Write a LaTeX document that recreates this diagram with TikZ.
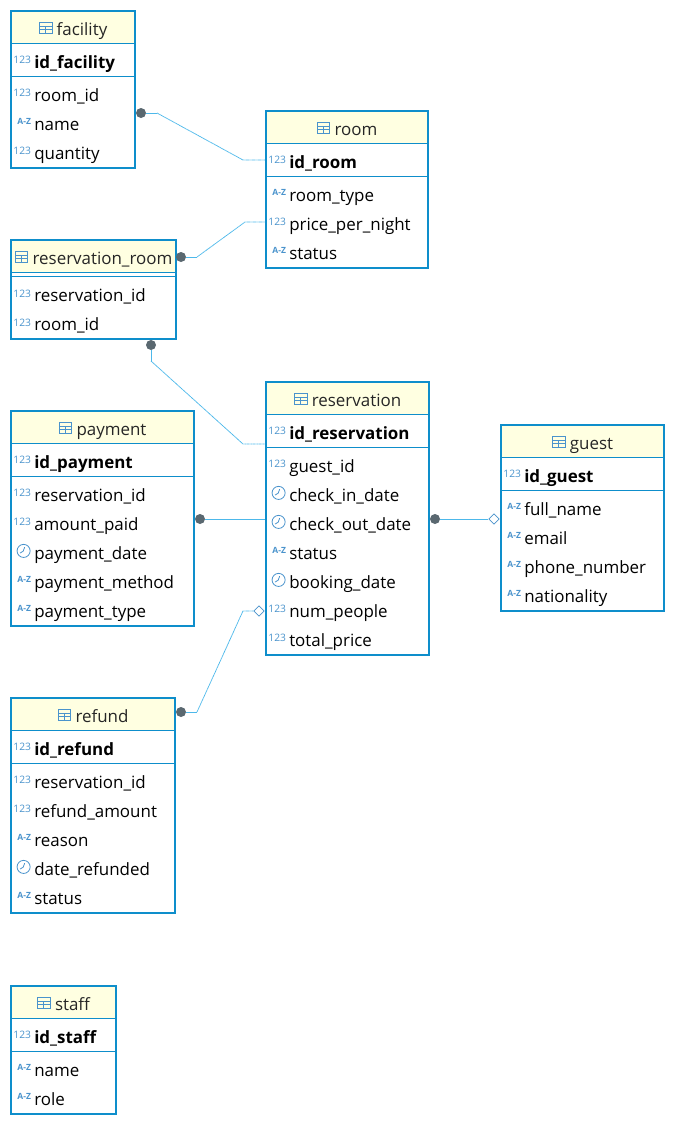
\documentclass[tikz,border=0pt]{standalone}
\usepackage{fontspec}
\setmainfont{Open Sans}
\usetikzlibrary{positioning, shapes.geometric}
\definecolor{framecol}{HTML}{0E8ECB}
\definecolor{iconcol}{HTML}{4A93CC}
\definecolor{linecol}{HTML}{4DB8EA}
\definecolor{titlecol}{HTML}{FFFFE1}
\definecolor{dotcol}{HTML}{5A6870}
\newcommand{\tableicon}{\tikz[baseline=-9.1pt,x=1pt,y=1pt]{\draw[iconcol,line width=.6pt] (0,0) rectangle (9.6,-7.6) (0,-2.6) -- (9.6,-2.6) (0,-5.1) -- (9.6,-5.1) (4.8,-2.6) -- (4.8,-7.6);}}
\newcommand{\clockicon}{\tikz[x=1pt,y=1pt]{\draw[iconcol,line width=.6pt] (0,0) circle (4.9) (.8,2.8) -- (-.3,-.2) -- (-2.6,-1.6);}}
\tikzset{
	framebox/.style={
		rectangle,
		draw=framecol,
		line width=1.5pt,
		anchor=north west,
		inner sep=0pt,
		outer sep=0pt,
	},
	titlebox/.style={
		rectangle,
		draw=framecol,
		line width=.6pt,
		fill=titlecol,
		anchor=north west,
		inner sep=0pt,
		outer sep=0pt,
		minimum height=24pt,
		text height=15pt,
		text depth=3pt,
		font=\fontsize{12.7}{16}\selectfont,
		text=black!85,
	},
	keybox/.style={
		rectangle,
		draw=framecol,
		line width=.6pt,
		inner sep=0pt,
		outer sep=0pt,
		minimum height=24.75pt,
	},
	row/.style={
		inner sep=0pt,
		text width=110pt,
		text height=16pt,
		text depth=3pt,
		align=left,
		font=\fontsize{12.7}{16}\selectfont,
	},
	icon/.style={
		text=iconcol,
		inner sep=0pt,
		label distance=2pt,
		yshift=-.3pt,
	},
	numrow/.style={row, label={[icon, font=\fontsize{7.7}{9}\selectfont]left:123}},
	textrow/.style={row, label={[icon, font=\bfseries\fontsize{6.4}{9}\selectfont]left:A-Z}},
	daterow/.style={row, label={[icon, label distance=2.4pt]left:\clockicon}},
	idrow/.style={numrow, font=\bfseries\fontsize{12.7}{16}\selectfont},
	dot/.style={
		circle,
		fill=dotcol,
		inner sep=0pt,
		minimum size=7.5pt,
	},
	optional/.style={
		diamond,
		draw=iconcol,
		fill=white,
		line width=.5pt,
		inner sep=0pt,
		minimum size=8pt,
	},
	stub/.style={draw=linecol, line width=.6pt},
	rel/.style={draw=linecol, line width=.6pt, dash pattern=on .6pt off .3pt},
}
\begin{document}
\begin{tikzpicture}[x=.75pt, y=-.75pt, node distance=21.75pt]
	\useasboundingbox (0,0) rectangle (675,1125);

	% facility
	\node [titlebox, minimum width=93pt] (tfacility) at (11,11) {\tableicon\ facility};
	\node [keybox, minimum width=93pt, below=0pt of tfacility] (kfacility) {};
	\node [idrow, right=17.25pt of kfacility.west] (id_facility) {id\_facility};
	\node [numrow, below of=id_facility, node distance=24.75pt] (facility_room) {room\_id};
	\node [textrow, below of=facility_room] (facility_name) {name};
	\node [numrow, below of=facility_name] (facility_quantity) {quantity};
	\node [framebox, minimum width=93pt, minimum height=117.75pt] (facility) at (11,11) {};

	% room
	\node [titlebox, minimum width=121.5pt] (troom) at (266,111) {\tableicon\ room};
	\node [keybox, minimum width=121.5pt, below=0pt of troom] (kroom) {};
	\node [idrow, right=17.25pt of kroom.west] (id_room) {id\_room};
	\node [textrow, below of=id_room, node distance=24.75pt] (room_type) {room\_type};
	\node [numrow, below of=room_type] (room_price) {price\_per\_night};
	\node [textrow, below of=room_price] (room_status) {status};
	\node [framebox, minimum width=121.5pt, minimum height=117.75pt] (room) at (266,111) {};

	% reservation_room
	\node [titlebox, minimum width=123.75pt] (tresroom) at (11,240) {\tableicon\ reservation\_room};
	\node [keybox, minimum width=123.75pt, minimum height=3pt, below=0pt of tresroom] (kresroom) {};
	\node [numrow, below right=12.7pt and 17.25pt of kresroom.south west, anchor=west] (resroom_res) {reservation\_id};
	\node [numrow, below of=resroom_res] (resroom_room) {room\_id};
	\node [framebox, minimum width=123.75pt, minimum height=74.25pt] (resroom) at (11,240) {};

	% reservation
	\node [titlebox, minimum width=122.25pt] (treservation) at (266,382) {\tableicon\ reservation};
	\node [keybox, minimum width=122.25pt, below=0pt of treservation] (kreservation) {};
	\node [idrow, right=17.25pt of kreservation.west] (id_reservation) {id\_reservation};
	\node [numrow, below of=id_reservation, node distance=24.75pt] (res_guest) {guest\_id};
	\node [daterow, below of=res_guest] (res_in) {check\_in\_date};
	\node [daterow, below of=res_in] (res_out) {check\_out\_date};
	\node [textrow, below of=res_out] (res_status) {status};
	\node [daterow, below of=res_status] (res_booking) {booking\_date};
	\node [numrow, below of=res_booking] (res_people) {num\_people};
	\node [numrow, below of=res_people] (res_total) {total\_price};
	\node [framebox, minimum width=122.25pt, minimum height=204.75pt] (reservation) at (266,382) {};

	% payment
	\node [titlebox, minimum width=137.25pt] (tpayment) at (11,411) {\tableicon\ payment};
	\node [keybox, minimum width=137.25pt, below=0pt of tpayment] (kpayment) {};
	\node [idrow, right=17.25pt of kpayment.west] (id_payment) {id\_payment};
	\node [numrow, below of=id_payment, node distance=24.75pt] (pay_res) {reservation\_id};
	\node [numrow, below of=pay_res] (pay_amount) {amount\_paid};
	\node [daterow, below of=pay_amount] (pay_date) {payment\_date};
	\node [textrow, below of=pay_date] (pay_method) {payment\_method};
	\node [textrow, below of=pay_method] (pay_type) {payment\_type};
	\node [framebox, minimum width=137.25pt, minimum height=161.25pt] (payment) at (11,411) {};

	% guest
	\node [titlebox, minimum width=122.25pt] (tguest) at (501,425) {\tableicon\ guest};
	\node [keybox, minimum width=122.25pt, below=0pt of tguest] (kguest) {};
	\node [idrow, right=17.25pt of kguest.west] (id_guest) {id\_guest};
	\node [textrow, below of=id_guest, node distance=24.75pt] (guest_name) {full\_name};
	\node [textrow, below of=guest_name] (guest_email) {email};
	\node [textrow, below of=guest_email] (guest_phone) {phone\_number};
	\node [textrow, below of=guest_phone] (guest_nat) {nationality};
	\node [framebox, minimum width=122.25pt, minimum height=139.5pt] (guest) at (501,425) {};

	% refund
	\node [titlebox, minimum width=123pt] (trefund) at (11,698) {\tableicon\ refund};
	\node [keybox, minimum width=123pt, below=0pt of trefund] (krefund) {};
	\node [idrow, right=17.25pt of krefund.west] (id_refund) {id\_refund};
	\node [numrow, below of=id_refund, node distance=24.75pt] (refund_res) {reservation\_id};
	\node [numrow, below of=refund_res] (refund_amount) {refund\_amount};
	\node [textrow, below of=refund_amount] (refund_reason) {reason};
	\node [daterow, below of=refund_reason] (refund_date) {date\_refunded};
	\node [textrow, below of=refund_date] (refund_status) {status};
	\node [framebox, minimum width=123pt, minimum height=161.25pt] (refund) at (11,698) {};

	% staff
	\node [titlebox, minimum width=78.75pt] (tstaff) at (11,986) {\tableicon\ staff};
	\node [keybox, minimum width=78.75pt, below=0pt of tstaff] (kstaff) {};
	\node [idrow, right=17.25pt of kstaff.west] (id_staff) {id\_staff};
	\node [textrow, below of=id_staff, node distance=24.75pt] (staff_name) {name};
	\node [textrow, below of=staff_name] (staff_role) {role};
	\node [framebox, minimum width=78.75pt, minimum height=96pt] (staff) at (11,986) {};

	% end points and bends
	\coordinate (c1a) at (157,113);
	\coordinate (c1b) at (243,160);
	\coordinate (c1c) at (265,160);
	\coordinate (c2a) at (197,257);
	\coordinate (c2b) at (245,222);
	\coordinate (c2c) at (265,222);
	\coordinate (c3a) at (151,361);
	\coordinate (c3b) at (243,444);
	\coordinate (c3c) at (265,444);
	\coordinate (c4a) at (265,519);
	\coordinate (c6a) at (197,712);
	\coordinate (c6b) at (243,611);

	% relations
	\node [dot] (d1) at (141,113) {};
	\node [dot] (d2) at (181,257) {};
	\node [dot] (d3) at (151,345) {};
	\node [dot] (d4) at (200,519) {};
	\node [dot] (d5) at (435,519) {};
	\node [dot] (d6) at (181,712) {};
	\node [optional] (o5) at (494,519) {};
	\node [optional] (o6) at (259,611) {};

	\draw [stub] (d1) -- (c1a);
	\draw [rel] (c1a) -- (c1b) -- (c1c);
	\draw [stub] (d2) -- (c2a);
	\draw [rel] (c2a) -- (c2b) -- (c2c);
	\draw [stub] (d3) -- (c3a);
	\draw [rel] (c3a) -- (c3b) -- (c3c);
	\draw [stub] (d4) -- (c4a);
	\draw [stub] (d5) -- (o5);
	\draw [stub] (d6) -- (c6a);
	\draw [rel] (c6a) -- (c6b) -- (o6);
\end{tikzpicture}
\end{document}
